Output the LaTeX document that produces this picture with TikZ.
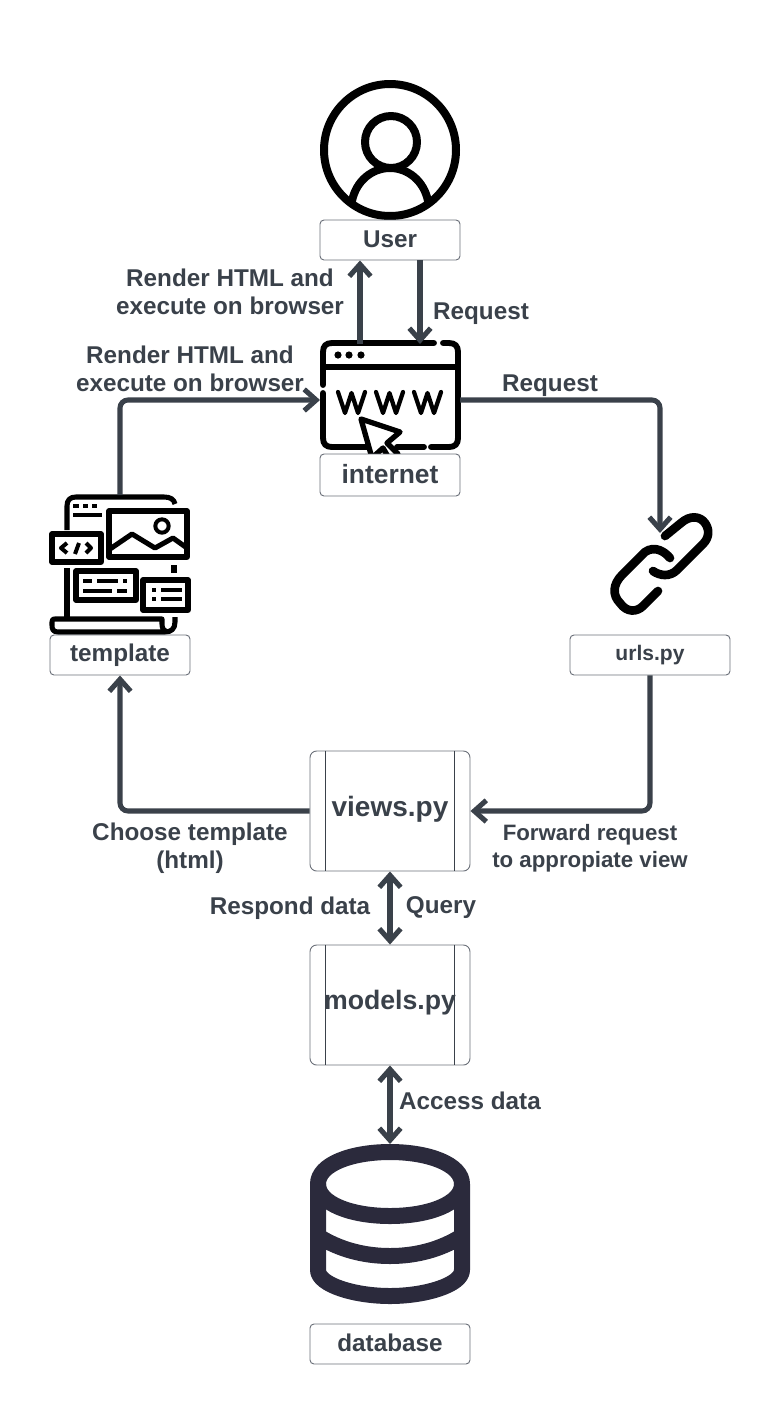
\documentclass[tikz,border=0pt]{standalone}
\usepackage{fontspec}
\setmainfont{Liberation Sans}
\usetikzlibrary{arrows.meta}
\usetikzlibrary{positioning}
\definecolor{inkgray}{HTML}{3A414A}
\definecolor{edgegray}{HTML}{6B7079}
\definecolor{dbnavy}{HTML}{2B2A3C}
\tikzset{
	labelbox/.style={draw=edgegray,line width=0.7pt,fill=white,rectangle,rounded corners=3pt,text=inkgray,font=\fontsize{18.2}{21}\selectfont\bfseries,inner sep=0pt},
	procbox/.style={draw=edgegray,line width=0.7pt,rectangle,rounded corners=5pt,text=inkgray,inner sep=0pt,minimum width=120pt,minimum height=90pt},
	iconbox/.style={rectangle,inner sep=0pt,outer sep=0pt},
	flowtext/.style={text=inkgray,font=\fontsize{18.2}{21}\selectfont\bfseries,align=center,inner sep=0pt},
	conn/.style={draw=inkgray,line width=3.8pt,rounded corners=6pt},
	icon/.style={draw=black,line width=3.8pt,line cap=round,line join=round}
}
\begin{document}
\begin{tikzpicture}[x=0.75pt,y=-0.75pt,every path/.style={>={Straight Barb[length=9pt,width=16pt,line width=3.8pt]}}]
		\useasboundingbox (0,0) rectangle (770,1404);

		% draw icon places
		\node (UserIcon) at (390,150) [iconbox,minimum width=105pt,minimum height=105pt] {};
		\node (WWW) at (390,400) [iconbox,minimum width=105pt,minimum height=84pt] {};
		\node (TmplIcon) at (120,565) [iconbox,minimum width=105pt,minimum height=105pt] {};
		\node (LinkIcon) at (660,565) [iconbox,minimum width=75pt,minimum height=48pt] {};
		\node (DBIcon) at (390,1224) [iconbox,minimum width=120pt,minimum height=120pt] {};

		% draw user icon
		\draw[icon,line width=6pt] (390,150) circle (49.5pt);
		\draw[icon,line width=6pt] (391,142) circle (19.5pt);
		\draw[icon,line width=6pt,line cap=butt] (352,201) .. controls (356,181) and (372,168) .. (390,168) .. controls (408,168) and (424,181) .. (428,201);

		% draw www icon
		\draw[icon,line width=4.4pt,line cap=round] (323,385) -- (323,352) .. controls (323,346) and (326,343) .. (332,343) -- (434,343);
		\draw[icon,line width=4.4pt] (443,343) -- (449,343) .. controls (455,343) and (458,346) .. (458,352) -- (458,438) .. controls (458,444) and (455,447) .. (449,447) -- (431,447);
		\draw[icon,line width=4.4pt] (424,447) -- (397,447);
		\draw[icon,line width=4.4pt] (368,447) -- (332,447) .. controls (326,447) and (323,444) .. (323,438) -- (323,393);
		\draw[icon,line width=4.4pt] (323,367) -- (458,367);
		\foreach \dotx in {338,349,361}
			\fill (\dotx,355) circle (2.7pt);
		\foreach \wx in {338,376,414}
			\draw[icon,line width=3.2pt] (\wx,392) -- (\wx+7,413) -- (\wx+13.5,393) -- (\wx+20,413) -- (\wx+27,392);
		\draw[icon,line width=4pt,fill=white] (361,419) -- (400,432) -- (387,443) -- (398,454) -- (390,460) -- (383,448) -- (372,458) -- cycle;

		% draw template icon
		\begin{scope}[icon,line cap=butt]
			\draw (67,617) -- (67,568);
			\draw (67,530) -- (67,506) .. controls (67,500) and (70,497) .. (76,497) -- (164,497) .. controls (170,497) and (174,499) .. (175,504);
			\draw[line width=3pt] (73,506) -- (79,506) (83,506) -- (88,506) (92,506) -- (97,506) (73,515) -- (102,515);
			\draw (109,511) rectangle (187,557);
			\draw (110,549) -- (132,534) -- (155,548) -- (173,538) -- (187,548);
			\draw[line width=3pt] (162,526) circle (5pt);
			\draw (52,534) rectangle (101,562);
			\draw[line width=3pt] (67,543) -- (61,548) -- (67,553) (79,543) -- (75,554) (86,543) -- (91,548) -- (86,553);
			\draw (76,571) rectangle (136,600);
			\draw[line width=3pt] (83,581) -- (92,581) (97,581) -- (118,581) (123,581) -- (127,581) (83,591) -- (112,591) (117,591) -- (127,591);
			\draw (143,580) rectangle (188,610);
			\draw[line width=3pt] (152,590) -- (156,590) (161,590) -- (182,590) (152,599) -- (156,599) (161,599) -- (182,599);
			\draw (174,565) -- (174,573);
			\draw (175,617) -- (175,622) .. controls (175,629) and (171,632) .. (165,632) -- (58,632) .. controls (53,632) and (52,629) .. (52,625) -- (52,622) .. controls (52,619) and (53,619) .. (55,619) -- (162,619) -- (162,624) .. controls (162,629) and (164,631) .. (167,632);
		\end{scope}

		% draw link icon
		\draw[icon,line width=6.5pt] (665,536) -- (681,523) .. controls (690,515) and (700,516) .. (705,523) .. controls (710,530) and (709,538) .. (703,544) -- (677,570) .. controls (670,577) and (660,576) .. (653,571);
		\draw[icon,line width=6.5pt] (670,558) .. controls (665,552) and (655,545) .. (645,552) -- (622,575) .. controls (613,584) and (612,595) .. (620,603) .. controls (627,613) and (637,612) .. (643,606) -- (658,591);

		% draw database icon
		\begin{scope}[draw=dbnavy,line width=12pt,line join=round]
			\draw (318,1184) .. controls (318,1164) and (352,1152) .. (390,1152) .. controls (428,1152) and (462,1164) .. (462,1184) -- (462,1270) .. controls (462,1285) and (425,1296) .. (390,1296) .. controls (355,1296) and (318,1285) .. (318,1270) -- cycle;
			\draw (318,1184) .. controls (318,1204) and (352,1216) .. (390,1216) .. controls (428,1216) and (462,1204) .. (462,1184);
			\draw (318,1236) .. controls (340,1250) and (365,1256) .. (390,1256) .. controls (415,1256) and (440,1250) .. (462,1236);
		\end{scope}

		% draw label boxes
		\node (User) at (390,240) [labelbox,minimum width=105pt,minimum height=30pt,text depth=0.8pt] {User};
		\node (Internet) at (390,475) [labelbox,minimum width=105pt,minimum height=31.5pt,font=\fontsize{19.8}{22}\selectfont\bfseries,text depth=1.5pt] {internet};
		\node (Tmpl) at (120,655) [labelbox,minimum width=105pt,minimum height=30pt] {template};
		\node (Urls) at (650,655) [labelbox,minimum width=120pt,minimum height=30pt,font=\fontsize{15.8}{18}\selectfont\bfseries] {urls.py};
		\node (DB) at (390,1344) [labelbox,minimum width=120pt,minimum height=30pt,text depth=1.5pt] {database};

		% draw process boxes
		\node (Views) at (390,811) [procbox,font=\fontsize{21}{24}\selectfont\bfseries,text depth=7.5pt] {views.py};
		\node (Models) at (390,1005) [procbox,font=\fontsize{20}{24}\selectfont\bfseries,text depth=7.5pt] {models.py};
		\draw[inkgray,line width=0.7pt] ([xshift=12pt]Views.north west) -- ([xshift=12pt]Views.south west);
		\draw[inkgray,line width=0.7pt] ([xshift=-12pt]Views.north east) -- ([xshift=-12pt]Views.south east);
		\draw[inkgray,line width=0.7pt] ([xshift=12pt]Models.north west) -- ([xshift=12pt]Models.south west);
		\draw[inkgray,line width=0.7pt] ([xshift=-12pt]Models.north east) -- ([xshift=-12pt]Models.south east);

		% draw connectors
		\draw[conn,->] ([xshift=-22.5pt]WWW.north) -- ([xshift=-22.5pt]User.south);
		\draw[conn,->] ([xshift=22.5pt]User.south) -- ([xshift=22.5pt]WWW.north);
		\draw[conn,->] (TmplIcon.north) |- (WWW.west);
		\draw[conn,->] (WWW.east) -| (LinkIcon.north);
		\draw[conn,->] (Urls.south) |- (Views.east);
		\draw[conn,->] (Views.west) -| (Tmpl.south);
		\draw[conn,<->] (Views.south) -- (Models.north);
		\draw[conn,<->] (Models.south) -- (DBIcon.north);

		% draw connector texts
		\node (T1) at (230,292) [flowtext] {Render HTML and\\execute on browser};
		\node (T2) at (190,369) [flowtext] {Render HTML and\\execute on browser};
		\node (T3) at (481,314) [flowtext] {Request};
		\node (T4) at (550,386) [flowtext] {Request};
		\node (T5) at (190,848) [flowtext] {Choose template\\(html)};
		\node (T6) at (590,848) [flowtext,font=\fontsize{16.7}{20.5}\selectfont\bfseries] {Forward request\\to appropiate view};
		\node (T7) at (290,908) [flowtext] {Respond data};
		\node (T8) at (441,908) [flowtext] {Query};
		\node (T9) at (470,1101) [flowtext] {Access data};
	\end{tikzpicture}
\end{document}
